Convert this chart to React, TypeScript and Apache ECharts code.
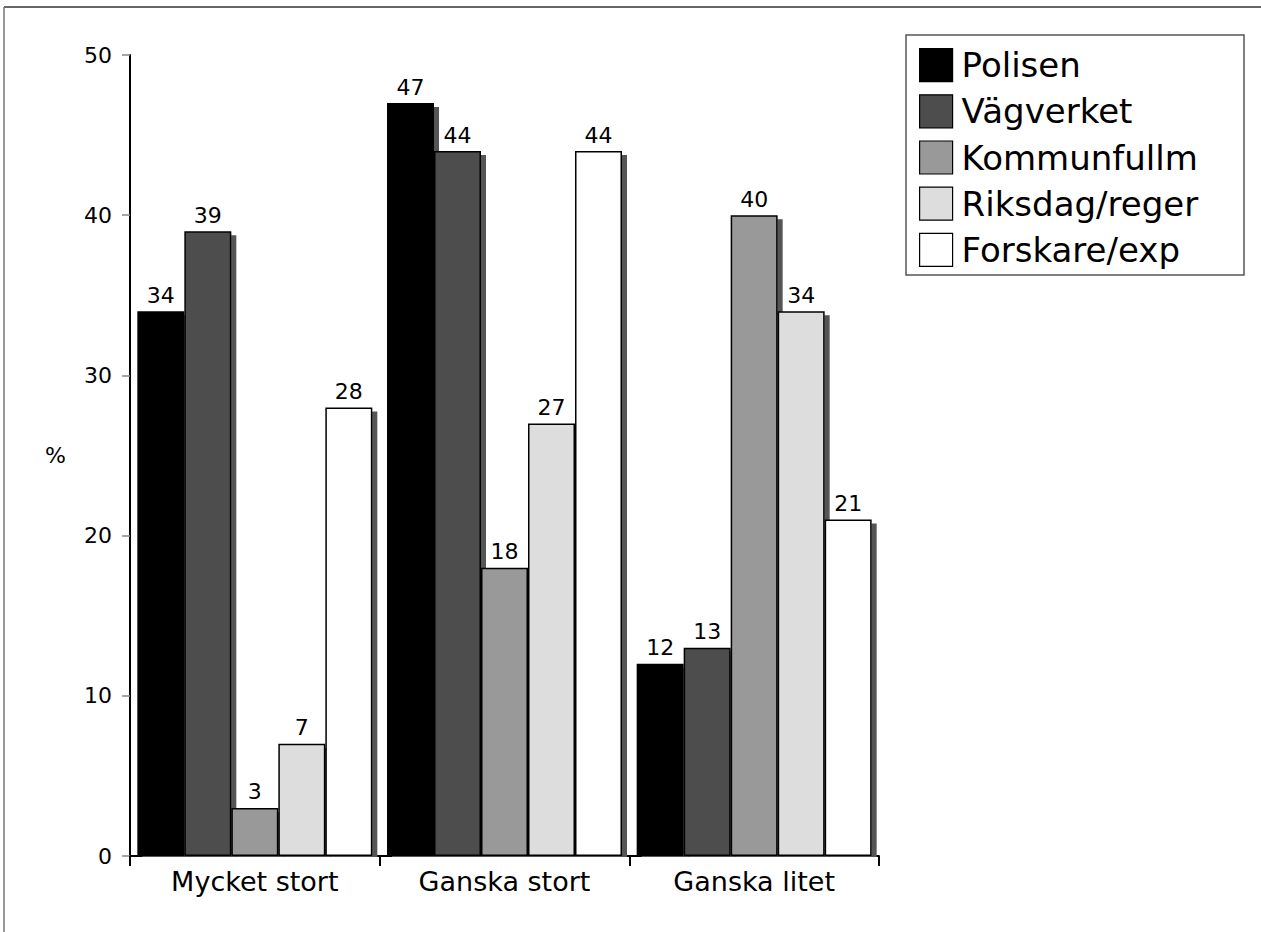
import React, { useEffect, useRef } from "react";
import * as echarts from "echarts";

const categories = ["Mycket stort", "Ganska stort", "Ganska litet"];
const seriesNames = ["Polisen", "Vägverket", "Kommunfullm", "Riksdag/reger", "Forskare/exp"];
const polisen = [34, 47, 12];
const vagverket = [39, 44, 13];
const kommunfullm = [3, 18, 40];
const riksdag = [7, 27, 34];
const forskare = [28, 44, 21];
const seriesValues = [polisen, vagverket, kommunfullm, riksdag, forskare];
const seriesColors = ["#000000", "#4d4d4d", "#999999", "#dddddd", "#ffffff"];
const yTicks = [0, 10, 20, 30, 40, 50];

const FONT = "DejaVu Sans";

export default function App() {
  const ref = useRef<HTMLDivElement>(null);
  useEffect(() => {
    document.body.style.margin = "0";
    const chart = echarts.init(ref.current!, null, { renderer: "svg" });
    // white strips just below the x axis hide the part of the drop shadows under the axis
    const covers = [
      [131.5, 378],
      [381.5, 628],
      [631, 877.5],
    ].map(([a, b]) => ({
      type: "rect",
      z: 100,
      silent: true,
      shape: { x: a, y: 857, width: b - a, height: 5 },
      style: { fill: "#ffffff" },
    }));
    chart.setOption({
      animation: false,
      backgroundColor: "#ffffff",
      textStyle: { fontFamily: FONT, color: "#000" },
      grid: { left: 130, right: 382, top: 55, bottom: 76, containLabel: false },
      legend: {
        orient: "vertical",
        left: 919,
        top: 48,
        padding: 0,
        itemGap: 12,
        itemWidth: 33,
        itemHeight: 33,
        icon: "rect",
        data: seriesNames,
        itemStyle: { borderColor: "#000", borderWidth: 1.2 },
        textStyle: { fontFamily: FONT, fontSize: 34, color: "#000", lineHeight: 33, padding: [0, 0, 0, 4] },
      },
      xAxis: {
        type: "category",
        data: categories,
        axisLine: { lineStyle: { color: "#000", width: 2 } },
        axisTick: { show: true, length: 10, lineStyle: { color: "#000", width: 2 } },
        axisLabel: { fontFamily: FONT, fontSize: 27, color: "#000", margin: 12 },
        splitLine: { show: false },
      },
      yAxis: {
        type: "value",
        min: yTicks[0],
        max: yTicks[yTicks.length - 1],
        interval: 10,
        name: "%",
        nameLocation: "middle",
        nameRotate: 0,
        nameGap: 64,
        nameTextStyle: { fontFamily: FONT, fontSize: 22, color: "#000", padding: [12, 0, 0, 0] },
        axisLine: { show: true, lineStyle: { color: "#000", width: 2 } },
        axisTick: { show: true, length: 8, lineStyle: { color: "#888", width: 1.5 } },
        axisLabel: { fontFamily: FONT, fontSize: 22, color: "#000", margin: 18 },
        splitLine: { show: false },
      },
      series: seriesNames.map((name, i) => ({
        name,
        type: "bar",
        data: seriesValues[i],
        barWidth: 47,
        barGap: "0%",
        itemStyle: {
          color: seriesColors[i],
          borderColor: "#000",
          borderWidth: 1.5,
          shadowColor: "#555555",
          shadowBlur: 0,
          shadowOffsetX: 5,
          shadowOffsetY: 4,
        },
        label: {
          show: true,
          position: "top",
          distance: 5,
          fontFamily: FONT,
          fontSize: 22,
          color: "#000",
        },
      })),
      graphic: [
        { type: "line", shape: { x1: 4, y1: 7, x2: 1261, y2: 7 }, style: { stroke: "#333", lineWidth: 1.5 }, silent: true },
        { type: "line", shape: { x1: 4, y1: 7, x2: 4, y2: 932 }, style: { stroke: "#777", lineWidth: 1.5 }, silent: true },
        { type: "rect", shape: { x: 906, y: 35, width: 338, height: 240 }, style: { fill: "none", stroke: "#555", lineWidth: 1.5 }, silent: true },
        ...covers,
      ],
    });
    return () => chart.dispose();
  }, []);
  return <div ref={ref} style={{ position: "fixed", left: 0, top: 0, width: 1261, height: 932 }} />;
}
